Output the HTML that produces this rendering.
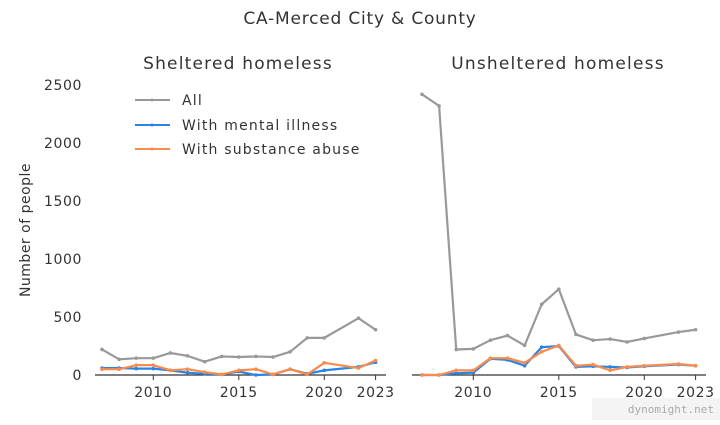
<!DOCTYPE html>
<html><head><meta charset="utf-8"><style>
html,body{margin:0;padding:0;background:#fff;}
svg text{font-family:"DejaVu Sans","Liberation Sans",sans-serif;fill:#333;}
</style></head><body>
<svg id="c" width="720" height="420" viewBox="0 0 720 420" xmlns="http://www.w3.org/2000/svg">
<text x="360" y="24" text-anchor="middle" font-size="17" letter-spacing="0.8">CA-Merced City &amp; County</text>
<text x="238" y="69" text-anchor="middle" font-size="17" letter-spacing="1.2">Sheltered homeless</text>
<text x="558" y="69" text-anchor="middle" font-size="17" letter-spacing="1.2">Unsheltered homeless</text>
<text transform="translate(30,230) rotate(-90)" text-anchor="middle" font-size="14" letter-spacing="0.5">Number of people</text>
<rect x="592" y="398" width="128" height="22" fill="#f4f4f4"/>
<text x="714" y="413" text-anchor="end" font-size="11" style="font-family:'DejaVu Sans Mono',monospace;fill:#aaa">dynomight.net</text>
<g id="plots"></g>
<g letter-spacing="1.2">
<g><line x1="135" y1="100" x2="170" y2="100" stroke="#999" stroke-width="2"/><circle cx="152" cy="100" r="1.5" fill="#999"/><text x="182" y="105" font-size="14">All</text></g>
<g><line x1="135" y1="125" x2="170" y2="125" stroke="#2a84e8" stroke-width="2"/><circle cx="152" cy="125" r="1.5" fill="#2a84e8"/><text x="182" y="130" font-size="14">With mental illness</text></g>
<g><line x1="135" y1="149" x2="170" y2="149" stroke="#f98b4d" stroke-width="2"/><circle cx="152" cy="149" r="1.5" fill="#f98b4d"/><text x="182" y="154" font-size="14">With substance abuse</text></g>
</g>
</svg>
<script>
const years=[2007,2008,2009,2010,2011,2012,2013,2014,2015,2016,2017,2018,2019,2020,2022,2023];
const xTicks=[2010,2015,2020,2023];
const yTicks=[0,500,1000,1500,2000,2500];
const shelAll=[220,135,145,145,190,165,115,160,155,160,155,200,320,320,490,390];
const shelMental=[60,60,55,55,40,20,10,5,30,0,5,50,10,40,70,110];
const shelSubst=[50,50,85,85,40,50,25,5,40,50,5,50,5,105,60,125];
const unshAll=[2420,2320,220,225,300,340,255,610,740,350,300,310,285,315,370,390];
const unshMental=[0,0,15,20,140,130,80,240,250,70,75,70,65,75,90,80];
const unshSubst=[0,0,40,40,145,145,105,200,255,80,90,40,70,80,95,80];
const NS='http://www.w3.org/2000/svg';
const g=document.getElementById('plots');
function el(t,a,p){const e=document.createElementNS(NS,t);for(const k in a)e.setAttribute(k,a[k]);(p||g).appendChild(e);return e;}
const yS=v=>375-v*0.116;
function panel(x0,ax0,ax1,series,name,showY){
  const xS=yr=>x0+(yr-2007)*17.1;
  const pg=el('g',{});
  
  
  const ax=el('line',{x1:ax0,x2:ax1,y1:375,y2:375,stroke:'#333','stroke-width':1.2},pg);
  
  
  xTicks.forEach(t=>{
    el('line',{x1:xS(t),x2:xS(t),y1:375,y2:380,stroke:'#333'},pg);
    const tx=el('text',{x:xS(t),y:397,'text-anchor':'middle','font-size':14,'letter-spacing':0.6},pg);
    tx.textContent=t;
    
    
  });
  if(showY){yTicks.forEach(t=>{
    const tx=el('text',{x:82,y:yS(t)+5,'text-anchor':'end','font-size':14,'letter-spacing':0.6},pg);
    tx.textContent=t;
    
    
  });}
  series.forEach(([vals,col,sn])=>{
    const pl=el('polyline',{points:years.map((y,i)=>xS(y)+','+yS(vals[i])).join(' '),fill:'none',stroke:col,'stroke-width':2.2,'stroke-linejoin':'round'},pg);
    
    
    years.forEach((y,i)=>{const c=el('circle',{cx:xS(y),cy:yS(vals[i]),r:1.8,fill:col},pg);
      
      });
  });
}
panel(102,95,386,[[shelAll,'#999','sheltered-all-line'],[shelMental,'#2a84e8','sheltered-mental-line'],[shelSubst,'#f98b4d','sheltered-substance-line']],'sheltered-panel',true);
panel(422,412,706,[[unshAll,'#999','unsheltered-all-line'],[unshMental,'#2a84e8','unsheltered-mental-line'],[unshSubst,'#f98b4d','unsheltered-substance-line']],'unsheltered-panel',false);
</script>
</body></html>
